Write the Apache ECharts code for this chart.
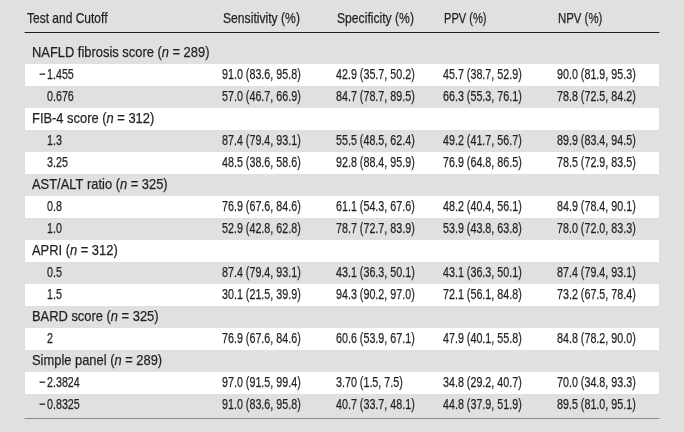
<!DOCTYPE html>
<html>
<head>
<meta charset="utf-8">
<script src="https://cdn.jsdelivr.net/npm/echarts@6/dist/echarts.min.js"></script>
<style>
html,body{margin:0;padding:0;background:#e0e0e0;}
#c{width:684px;height:432px;}
</style>
</head>
<body>
<div id="c"></div>
<script>
// ---- data ----
const headers = ['Test and Cutoff', 'Sensitivity (%)', 'Specificity (%)', 'PPV (%)', 'NPV (%)'];
const tests = ['NAFLD fibrosis score', 'FIB-4 score', 'AST/ALT ratio', 'APRI', 'BARD score', 'Simple panel'];
const testN = [289, 312, 325, 312, 325, 289];
const cutoffs = [['−1.455', '0.676'], ['1.3', '3.25'], ['0.8', '1.0'], ['0.5', '1.5'], ['2'], ['−2.3824', '−0.8325']];
const sensitivity = ['91.0 (83.6, 95.8)', '57.0 (46.7, 66.9)', '87.4 (79.4, 93.1)', '48.5 (38.6, 58.6)', '76.9 (67.6, 84.6)', '52.9 (42.8, 62.8)', '87.4 (79.4, 93.1)', '30.1 (21.5, 39.9)', '76.9 (67.6, 84.6)', '97.0 (91.5, 99.4)', '91.0 (83.6, 95.8)'];
const specificity = ['42.9 (35.7, 50.2)', '84.7 (78.7, 89.5)', '55.5 (48.5, 62.4)', '92.8 (88.4, 95.9)', '61.1 (54.3, 67.6)', '78.7 (72.7, 83.9)', '43.1 (36.3, 50.1)', '94.3 (90.2, 97.0)', '60.6 (53.9, 67.1)', '3.70 (1.5, 7.5)', '40.7 (33.7, 48.1)'];
const ppv = ['45.7 (38.7, 52.9)', '66.3 (55.3, 76.1)', '49.2 (41.7, 56.7)', '76.9 (64.8, 86.5)', '48.2 (40.4, 56.1)', '53.9 (43.8, 63.8)', '43.1 (36.3, 50.1)', '72.1 (56.1, 84.8)', '47.9 (40.1, 55.8)', '34.8 (29.2, 40.7)', '44.8 (37.9, 51.9)'];
const npv = ['90.0 (81.9, 95.3)', '78.8 (72.5, 84.2)', '89.9 (83.4, 94.5)', '78.5 (72.9, 83.5)', '84.9 (78.4, 90.1)', '78.0 (72.0, 83.3)', '87.4 (79.4, 93.1)', '73.2 (67.5, 78.4)', '84.8 (78.2, 90.0)', '70.0 (34.8, 93.3)', '89.5 (81.0, 95.1)'];

// ---- layout (style, not data) ----
const FONT = '"Liberation Sans", Arial, sans-serif';
const FS = 15;
const SX_NUM = 0.715;        // horizontal condensing for numeric cells
const SX_GROUP = 0.86;       // group label rows
const SX_HEAD = [0.80, 0.81, 0.81, 0.74, 0.76];
const TXT = '#231f20';
const colX = [7, 197, 311, 418, 532];   // column left edges along the x value axis (grid units)
const groupX = 7, cutX = 22, headX = 2;

// build rows
const rows = [];
let k = 0;
tests.forEach((t, i) => {
  rows.push({ type: 'group', label: t + ' ({i|n} = ' + testN[i] + ')' });
  cutoffs[i].forEach(c => {
    rows.push({ type: 'cut', label: c, vals: [sensitivity[k], specificity[k], ppv[k], npv[k]] });
    k++;
  });
});
const rowCats = rows.map((r, i) => String(i));

const cellData = [];
rows.forEach((r, i) => {
  if (r.type === 'group') {
    cellData.push({ value: [groupX, i], text: r.label, rich: true });
  } else {
    cellData.push({ value: [cutX, i], text: r.label, cut: true });
    r.vals.forEach((v, j) => cellData.push({ value: [colX[j + 1], i], text: v }));
  }
});

function textEl(x, y, text, rich, align, sx) {
  const style = {
    x: 0, y: 0, text: text, fill: TXT,
    fontFamily: FONT, fontSize: FS,
    align: align || 'left', verticalAlign: 'middle',
    stroke: TXT, lineWidth: 0.25
  };
  if (rich) {
    style.rich = { i: { fontStyle: 'italic', fontFamily: FONT, fontSize: FS, fill: TXT, stroke: TXT, lineWidth: 0.25 } };
  }
  return { type: 'text', x: x, y: y, scaleX: sx || SX_NUM, scaleY: 1, style: style };
}

const chart = echarts.init(document.getElementById('c'), null, { renderer: 'canvas' });
const GRID_W = 634;
chart.setOption({
  backgroundColor: '#e0e0e0',
  animation: false,
  grid: { left: 25, top: 42, width: GRID_W, height: rows.length * 22 },
  xAxis: [
    { type: 'value', min: 0, max: GRID_W, position: 'top', offset: 10,
      axisLine: { show: true, lineStyle: { color: '#231f20', width: 1 } },
      axisTick: { show: false }, axisLabel: { show: false }, splitLine: { show: false } },
    { type: 'value', min: 0, max: GRID_W, position: 'bottom', offset: 2,
      axisLine: { show: true, lineStyle: { color: '#8a8a8a', width: 1 } },
      axisTick: { show: false }, axisLabel: { show: false }, splitLine: { show: false } }
  ],
  yAxis: {
    type: 'category', data: rowCats, inverse: true,
    axisLine: { show: false }, axisTick: { show: false }, axisLabel: { show: false },
    splitLine: { show: false },
    splitArea: { show: true, areaStyle: { color: ['rgba(0,0,0,0)', '#ffffff'] } }
  },
  series: [
    {
      type: 'custom', xAxisIndex: 0, coordinateSystem: 'cartesian2d',
      data: cellData.map(d => d.value),
      renderItem: function (params, api) {
        const d = cellData[params.dataIndex];
        const p = api.coord([api.value(0), api.value(1)]);
        const y = p[1] - 0.5;
        if (d.cut && d.text.charAt(0) === '−') {
          return {
            type: 'group',
            children: [
              textEl(p[0] - 1.5, y, '−', false, 'right'),
              textEl(p[0], y, d.text.slice(1), false, 'left')
            ]
          };
        }
        return textEl(p[0], y, d.text, d.rich, 'left', d.rich ? SX_GROUP : SX_NUM);
      }
    },
    {
      type: 'custom', xAxisIndex: 0, coordinateSystem: 'cartesian2d',
      data: headers.map((h, j) => [j === 0 ? headX : colX[j] + 1, 0]),
      renderItem: function (params, api) {
        const p = api.coord([api.value(0), api.value(1)]);
        const band = api.size([0, 1])[1];
        return textEl(p[0], p[1] - band / 2 - 23, headers[params.dataIndex], false, 'left', SX_HEAD[params.dataIndex]);
      }
    }
  ]
});
</script>
</body>
</html>
